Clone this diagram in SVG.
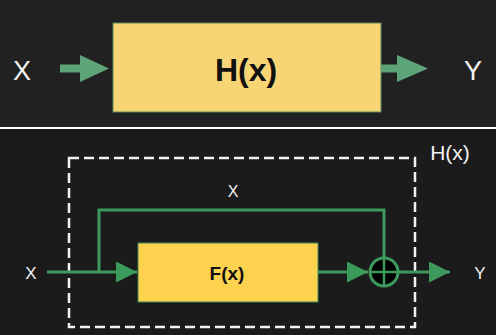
<svg xmlns="http://www.w3.org/2000/svg" width="496" height="335" viewBox="0 0 496 335">
<defs>
<style>
.lbl{font-family:"Liberation Sans",Arial,sans-serif;fill:#f2f2f2}
.bold{font-family:"Liberation Sans",Arial,sans-serif;font-weight:bold;fill:#111}
.g2{stroke:#3c9a5d;stroke-width:3;fill:none}
</style>
<marker id="ah" viewBox="0 0 10 10" refX="10" refY="5" markerWidth="7.5" markerHeight="7" markerUnits="strokeWidth" orient="auto"><path d="M0,0 L10,5 L0,10 z" fill="#3c9a5d"/></marker>
</defs>
<rect x="0" y="0" width="496" height="335" fill="#ffffff"/>
<rect x="0" y="0" width="496" height="127" fill="#212121"/>
<rect x="0" y="129" width="496" height="206" fill="#1b1b1b"/>
<g id="top-input"><text class="lbl" x="22" y="80" font-size="27" text-anchor="middle">X</text></g>
<g id="top-H"><rect x="113" y="23" width="268" height="89" fill="#f7d574" stroke="#5b8a5a" stroke-width="1"/><text class="bold" x="246" y="81" font-size="32" text-anchor="middle">H(x)</text></g>
<g id="top-output"><text class="lbl" x="473" y="80" font-size="27" text-anchor="middle">Y</text></g>
<g id="top-connectors" fill="#5ea479">
<path d="M60,64.5 H80 V55 L109,68.5 L80,82 V72.5 H60 z"/>
<path d="M381,64.5 H397 V55 L428,68.5 L397,82 V72.5 H381 z"/>
</g>
<g id="H-box"><rect x="69" y="158" width="346" height="169" fill="none" stroke="#f2f2f2" stroke-width="2.5" stroke-dasharray="10,5"/><text class="lbl" x="450" y="160" font-size="21" text-anchor="middle">H(x)</text></g>
<g id="input"><text class="lbl" x="31" y="279" font-size="17" text-anchor="middle">X</text></g>
<g id="F"><rect x="138" y="243" width="180" height="59" fill="#fdd24f" stroke="#3c8a55" stroke-width="1"/><text class="bold" x="227" y="280" font-size="19" text-anchor="middle">F(x)</text></g>
<g id="sum"><circle cx="384" cy="272" r="14" fill="#000" stroke="#3c9a5d" stroke-width="3"/><path d="M370,272 H398 M384,258 V286" stroke="#3c9a5d" stroke-width="2.5"/></g>
<g id="output"><text class="lbl" x="480" y="279" font-size="17" text-anchor="middle">Y</text></g>
<g id="skip-label"><text class="lbl" x="233" y="197" font-size="16" text-anchor="middle">X</text></g>
<g id="connectors">
<path class="g2" d="M47,272 H137" marker-end="url(#ah)"/>
<path class="g2" d="M99,272 V210 H384 V258"/>
<path class="g2" d="M318,272 H368" marker-end="url(#ah)"/>
<path class="g2" d="M399,272 H450" marker-end="url(#ah)"/>
</g>
</svg>
